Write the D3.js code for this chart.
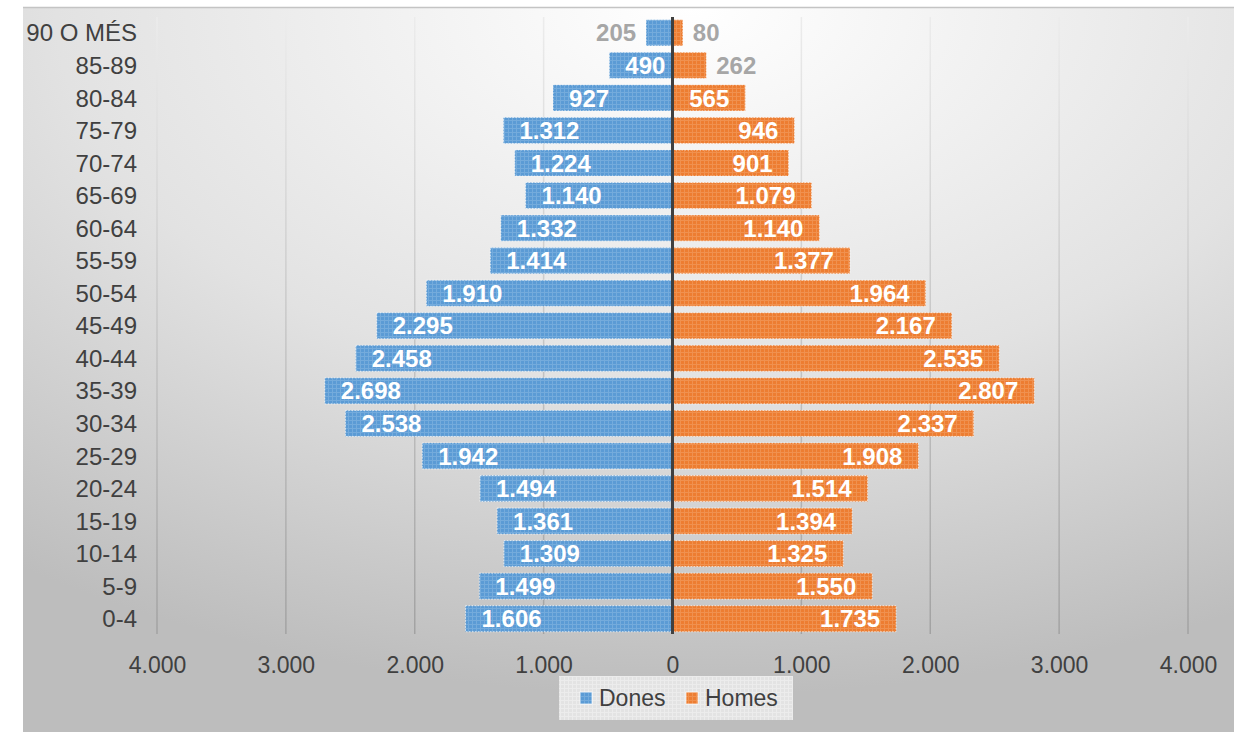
<!DOCTYPE html>
<html>
<head>
<meta charset="utf-8">
<script src="https://cdn.jsdelivr.net/npm/d3@7/dist/d3.min.js"></script>
<style>
  html, body { margin: 0; padding: 0; background: #ffffff; }
  svg { display: block; font-family: "Liberation Sans", Arial, sans-serif; }
</style>
</head>
<body>
<svg id="chart" width="1243" height="733"></svg>
<script>
const categories = ["90 O MÉS","85-89","80-84","75-79","70-74","65-69","60-64","55-59","50-54","45-49","40-44","35-39","30-34","25-29","20-24","15-19","10-14","5-9","0-4"];
const dones = [205,490,927,1312,1224,1140,1332,1414,1910,2295,2458,2698,2538,1942,1494,1361,1309,1499,1606];
const homes = [80,262,565,946,901,1079,1140,1377,1964,2167,2535,2807,2337,1908,1514,1394,1325,1550,1735];
const tickValues = [-4000,-3000,-2000,-1000,0,1000,2000,3000,4000];
const seriesNames = ["Dones","Homes"];

const svg = d3.select("#chart");
const defs = svg.append("defs");

// Background radial gradient
const bg = defs.append("radialGradient").attr("id","bgGrad")
  .attr("cx","55%").attr("cy","0%").attr("r","95%").attr("fx","55%").attr("fy","0%");
bg.append("stop").attr("offset","0%").attr("stop-color","#ffffff");
bg.append("stop").attr("offset","55%").attr("stop-color","#e2e2e2");
bg.append("stop").attr("offset","100%").attr("stop-color","#bdbdbd");

// Gridline gradient
const gg = defs.append("linearGradient").attr("id","gridGrad")
  .attr("gradientUnits","userSpaceOnUse").attr("x1",0).attr("y1",17).attr("x2",0).attr("y2",634);
gg.append("stop").attr("offset","0%").attr("stop-color","#ececec");
gg.append("stop").attr("offset","100%").attr("stop-color","#a2a2a2");

function makePattern(id, base, line) {
  const p = defs.append("pattern").attr("id", id).attr("patternUnits","userSpaceOnUse")
    .attr("width",4).attr("height",4);
  p.append("rect").attr("width",4).attr("height",4).attr("fill",base);
  p.append("rect").attr("x",0).attr("y",0).attr("width",4).attr("height",1).attr("fill",line);
  p.append("rect").attr("x",0).attr("y",0).attr("width",1).attr("height",4).attr("fill",line);
}
makePattern("patBlue", "#5b9bd5", "#74abdc");
makePattern("patOrange", "#ed7d31", "#f0914f");
makePattern("patLegend", "#e3e3e3", "#ececec");

// Background box
svg.append("rect").attr("x",23).attr("y",7).attr("width",1211).attr("height",725)
  .attr("fill","url(#bgGrad)");
svg.append("line").attr("x1",23).attr("x2",1234).attr("y1",7.5).attr("y2",7.5)
  .attr("stroke","#c4c4c4").attr("stroke-width",1.5);

const x = d3.scaleLinear().domain([-4000,4000]).range([157,1188]);
const y = d3.scaleBand().domain(categories).range([16.5,635]).paddingInner(0.2).paddingOuter(0.1);

const locale = d3.formatLocale({decimal:",", thousands:".", grouping:[3], currency:["",""]});
const fmt = locale.format(",d");

// Gridlines
svg.append("g").selectAll("line").data(tickValues.filter(d => d !== 0)).join("line")
  .attr("x1", d => x(d)).attr("x2", d => x(d))
  .attr("y1", 17).attr("y2", 634)
  .attr("stroke","url(#gridGrad)").attr("stroke-width",1.5);

// X axis labels
const xAxis = d3.axisBottom(x).tickValues(tickValues).tickSize(0).tickPadding(0)
  .tickFormat(d => fmt(Math.abs(d)));
const gx = svg.append("g").attr("transform","translate(0,656)").call(xAxis);
gx.select(".domain").remove();
gx.selectAll("text").attr("fill","#404040").attr("font-size","23px")
  .attr("font-family","'Liberation Sans', Arial, sans-serif").attr("dy","0.72em");

// Y axis labels
const yAxis = d3.axisLeft(y).tickSize(0).tickPadding(0);
const gy = svg.append("g").attr("transform","translate(137,0)").call(yAxis);
gy.select(".domain").remove();
gy.selectAll("text").attr("fill","#404040").attr("font-size","24px")
  .attr("font-family","'Liberation Sans', Arial, sans-serif").attr("dy","0.36em");

const rows = categories.map((c,i) => ({cat:c, dones:dones[i], homes:homes[i]}));

// Bars
svg.append("g").selectAll("rect").data(rows).join("rect")
  .attr("x", d => x(-d.dones)).attr("width", d => x(0) - x(-d.dones))
  .attr("y", d => y(d.cat)).attr("height", y.bandwidth())
  .attr("fill","url(#patBlue)")
  .attr("stroke","#ffffff").attr("stroke-opacity",0.7).attr("stroke-width",1).attr("stroke-dasharray","1.5,1.5");
svg.append("g").selectAll("rect").data(rows).join("rect")
  .attr("x", x(0)).attr("width", d => x(d.homes) - x(0))
  .attr("y", d => y(d.cat)).attr("height", y.bandwidth())
  .attr("fill","url(#patOrange)")
  .attr("stroke","#ffffff").attr("stroke-opacity",0.7).attr("stroke-width",1).attr("stroke-dasharray","1.5,1.5");

// Zero line
svg.append("line").attr("x1", x(0)).attr("x2", x(0)).attr("y1",17).attr("y2",634)
  .attr("stroke","#404040").attr("stroke-width",3);

// Data labels
const threshold = 300;
const lab = svg.append("g").attr("font-weight","bold").attr("font-size","24px")
  .attr("font-family","'Liberation Sans', Arial, sans-serif");
lab.selectAll("text.d").data(rows).join("text").attr("class","d")
  .attr("x", d => d.dones < threshold ? x(-d.dones) - 10 : x(-d.dones) + 16)
  .attr("text-anchor", d => d.dones < threshold ? "end" : "start")
  .attr("y", d => y(d.cat) + y.bandwidth()/2).attr("dy","0.36em")
  .attr("fill", d => d.dones < threshold ? "#a6a6a6" : "#ffffff")
  .text(d => fmt(d.dones));
lab.selectAll("text.h").data(rows).join("text").attr("class","h")
  .attr("x", d => d.homes < threshold ? x(d.homes) + 10 : x(d.homes) - 16)
  .attr("text-anchor", d => d.homes < threshold ? "start" : "end")
  .attr("y", d => y(d.cat) + y.bandwidth()/2).attr("dy","0.36em")
  .attr("fill", d => d.homes < threshold ? "#a6a6a6" : "#ffffff")
  .text(d => fmt(d.homes));

// Legend
const lg = svg.append("g");
lg.append("rect").attr("x",559).attr("y",676).attr("width",234).attr("height",44)
  .attr("fill","url(#patLegend)");
const legendItems = [
  {name: seriesNames[0], fill: "url(#patBlue)", sx: 580, tx: 599},
  {name: seriesNames[1], fill: "url(#patOrange)", sx: 686, tx: 705}
];
legendItems.forEach(it => {
  lg.append("rect").attr("x", it.sx).attr("y", 692).attr("width", 12).attr("height", 12)
    .attr("fill", it.fill).attr("stroke","#ffffff").attr("stroke-opacity",0.7).attr("stroke-width",1);
  lg.append("text").attr("x", it.tx).attr("y", 698).attr("dy","0.36em")
    .attr("font-size","23px").attr("fill","#404040").text(it.name);
});
</script>
</body>
</html>
